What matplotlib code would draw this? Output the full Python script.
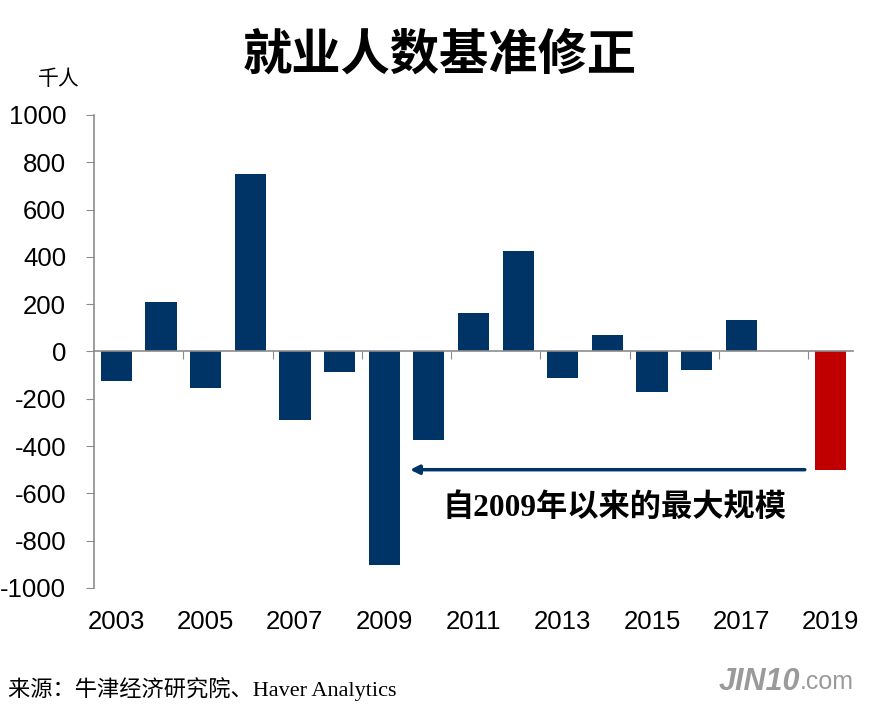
import numpy as np
import matplotlib
matplotlib.use('Agg')
import matplotlib.pyplot as plt
from matplotlib.transforms import blended_transform_factory

plt.rcParams['font.family'] = ['Liberation Sans', 'Noto Sans CJK SC', 'DejaVu Sans']

years = [2003, 2004, 2005, 2006, 2007, 2008, 2009, 2010, 2011,
         2012, 2013, 2014, 2015, 2016, 2017, 2018, 2019]
revisions = [-123, 207, -156, 752, -288, -89, -905, -376, 161,
             423, -114, 68, -173, -80, 135, 0, -500]
label_years = [2003, 2005, 2007, 2009, 2011, 2013, 2015, 2017, 2019]
yticks = [-1000, -800, -600, -400, -200, 0, 200, 400, 600, 800, 1000]

navy = '#003366'
red = '#C00000'
grey = '#8c8c8c'

fig = plt.figure(figsize=(8.84, 7.05), dpi=100)
ax = fig.add_axes([0.1063, 0.166, 0.8587, 0.671])

x = np.arange(len(years))
colors = [red if y == 2019 else navy for y in years]
ax.bar(x, revisions, width=0.7, color=colors, zorder=2)

ax.set_xlim(-0.5, len(years) - 0.5)
ax.set_ylim(-1000, 1000)

ax.spines['top'].set_visible(False)
ax.spines['right'].set_visible(False)
ax.spines['bottom'].set_position(('data', 0))
ax.spines['bottom'].set_color(grey)
ax.spines['left'].set_color(grey)
ax.spines['bottom'].set_linewidth(1.2)
ax.spines['left'].set_linewidth(1.2)

ax.set_yticks(yticks)
ax.set_yticklabels([str(v) for v in yticks])
ax.tick_params(axis='y', direction='out', length=6, color=grey, labelsize=18.5, pad=14)
ax.set_xticks(np.arange(1.5, len(years) - 1, 2))
ax.set_xticklabels([])
ax.tick_params(axis='x', direction='out', length=6, color=grey)

trans = blended_transform_factory(ax.transData, ax.transAxes)
for yr in label_years:
    ax.text(years.index(yr), -0.072, str(yr), transform=trans, ha='center', va='center',
            fontsize=18.5)

# arrow from 2019 bar back to 2009
i19 = years.index(2019)
i09 = years.index(2009)
ya = revisions[i19]
ax.annotate('', xy=(i09 + 0.58, ya), xytext=(i19 - 0.58, ya),
            arrowprops=dict(arrowstyle='-|>', color=navy, lw=2.5,
                            mutation_scale=13, shrinkA=0, shrinkB=0))
ax.annotate('自2009年以来的最大规模', xy=((i09 + i19) / 2 + 0.15, ya), xytext=(0, -28),
            textcoords='offset points', ha='center', va='center', fontsize=22.5,
            fontweight='bold', family=['Liberation Serif', 'Noto Sans CJK SC'])

fig.text(0.497, 0.922, '就业人数基准修正', ha='center', va='center', fontsize=35.5,
         fontweight='bold', family=['Noto Sans CJK SC'])
fig.text(0.067, 0.888, '千人', ha='center', va='center', fontsize=15,
         family=['Noto Sans CJK SC'])
fig.text(0.009, 0.022, '来源：牛津经济研究院、Haver Analytics', ha='left', va='center',
         fontsize=16, family=['Liberation Serif', 'Noto Sans CJK SC'])
fig.text(0.905, 0.032, 'JIN10', ha='right', va='center', fontsize=22, color='#9a9a9a',
         fontweight='bold', style='italic')
fig.text(0.905, 0.032, '.com', ha='left', va='center', fontsize=18, color='#9a9a9a')

fig.savefig('out.png', dpi=100)
